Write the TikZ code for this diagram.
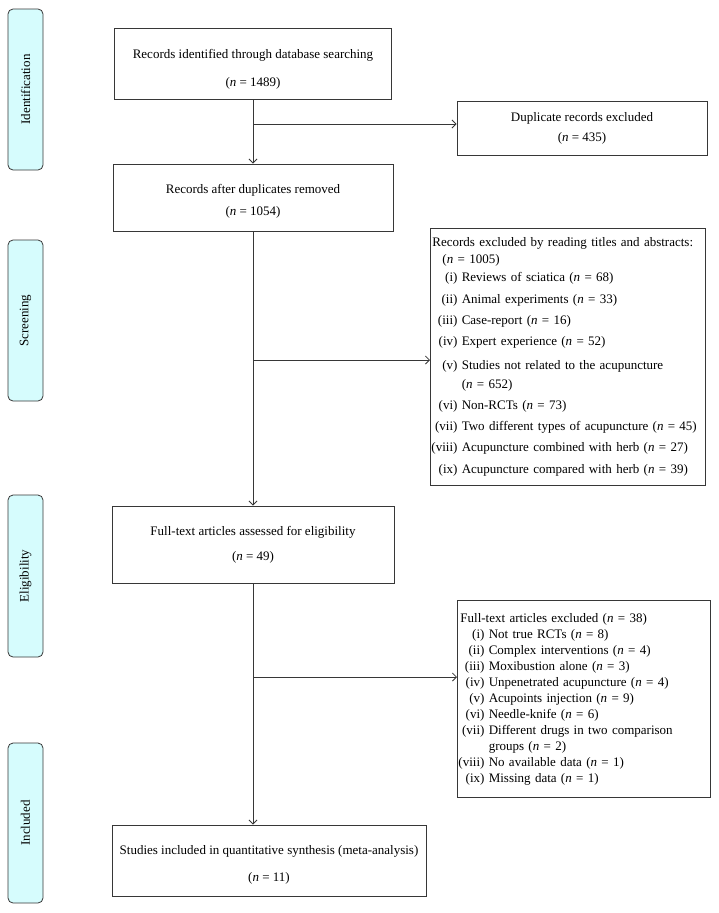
\documentclass[tikz,border=0pt]{standalone}
\usepackage{fontspec}
\setmainfont{Liberation Serif}
\usetikzlibrary{arrows.meta}

\definecolor{stagefill}{RGB}{214,252,253}
\definecolor{linegray}{RGB}{55,55,55}

\tikzset{
  box/.style={draw=linegray, line width=0.9pt, align=center, inner sep=2pt},
  excl/.style={draw=linegray, line width=0.9pt, anchor=north west, align=left, inner xsep=1pt, inner ysep=0pt},
  stage/.style={draw=linegray, fill=stagefill, rounded corners=5pt, line width=0.8pt, rotate=90, minimum height=35pt},
  arr/.style={draw=linegray, line width=0.8pt, -{Straight Barb[length=4pt,width=8pt]}}
}

\newcommand{\nn}[1]{(\textit{n} = #1)}
% invisible height to push the text of a box down
\newcommand{\high}[1]{\rule{0pt}{#1}}

\begin{document}
\begin{tikzpicture}[x=1pt, y=-1pt, font=\fontsize{13}{16}\selectfont]

\useasboundingbox (0,0) rectangle (718,913);

% Stage labels on the left
\node[stage, minimum width=161pt] (sid) at (25.5,89.5) {Identification};
\node[stage, minimum width=161pt] (sscr) at (25.5,320.5) {Screening};
\node[stage, minimum width=162pt] (selig) at (25.5,576) {Eligibility};
\node[stage, minimum width=160pt] (sincl) at (25.5,823) {Included};

% Main flow
\node[box, minimum width=277pt, minimum height=71pt] (found) at (253,63.5)
  {\high{21pt}Records identified through database searching\\[12pt]\nn{1489}};
\node[box, minimum width=280pt, minimum height=67pt] (dedup) at (253,197.5)
  {\high{16pt}Records after duplicates removed\\[6pt]\nn{1054}};
\node[box, minimum width=282pt, minimum height=77pt] (full) at (253,544.5)
  {Full-text articles assessed for eligibility\\[9pt]\nn{49}};
\node[box, minimum width=314pt, minimum height=71pt] (incl) at (269,860.5)
  {\high{18pt}Studies included in quantitative synthesis (meta-analysis)\\[11pt]\nn{11}};

% Excluded records
\node[box, minimum width=250pt, minimum height=54pt] (dup) at (582,128)
  {Duplicate records excluded\\[4pt]\nn{435}};

\node[excl, text width=273pt, minimum height=257pt] (scr) at (430,228) {%
\begin{tabular}{@{}r@{\ }l@{}}
\multicolumn{2}{@{}l@{}}{\hspace{1pt}Records excluded by reading titles and abstracts:}\\[1pt]
\multicolumn{2}{@{}l@{}}{\hspace{11pt}\nn{1005}}\\[2pt]
(i) & Reviews of sciatica \nn{68}\\[5.5pt]
(ii) & Animal experiments \nn{33}\\[5.5pt]
(iii) & Case-report \nn{16}\\[5pt]
(iv) & Expert experience \nn{52}\\[7.5pt]
(v) & Studies not related to the acupuncture\\[3pt]
 & \nn{652}\\[5pt]
(vi) & Non-RCTs \nn{73}\\[5pt]
(vii) & Two different types of acupuncture \nn{45}\\[5.5pt]
(viii) & Acupuncture combined with herb \nn{27}\\[5.5pt]
(ix) & Acupuncture compared with herb \nn{39}
\end{tabular}};

\node[excl, text width=251pt, minimum height=197pt] (ft) at (457,600) {%
\begin{tabular}{@{}r@{\ }l@{}}
\multicolumn{2}{@{}l@{}}{\hspace{2pt}Full-text articles excluded \nn{38}}\\
(i) & Not true RCTs \nn{8}\\
(ii) & Complex interventions \nn{4}\\
(iii) & Moxibustion alone \nn{3}\\
(iv) & Unpenetrated acupuncture \nn{4}\\
(v) & Acupoints injection \nn{9}\\
(vi) & Needle-knife \nn{6}\\
(vii) & Different drugs in two comparison\\
 & groups \nn{2}\\
(viii) & No available data \nn{1}\\
(ix) & Missing data \nn{1}
\end{tabular}};

% Connectors
\draw[arr] (found) -- (dedup);
\coordinate (j1) at (253,124);
\draw[arr] (j1) -- (j1 -| dup.west);

\draw[arr] (dedup) -- (full);
\coordinate (j2) at (253,360);
\draw[arr] (j2) -- (j2 -| scr.west);

\draw[arr] (full.south) -- (full.south |- incl.north);
\coordinate (j3) at (253,677);
\draw[arr] (j3) -- (j3 -| ft.west);

\end{tikzpicture}
\end{document}
